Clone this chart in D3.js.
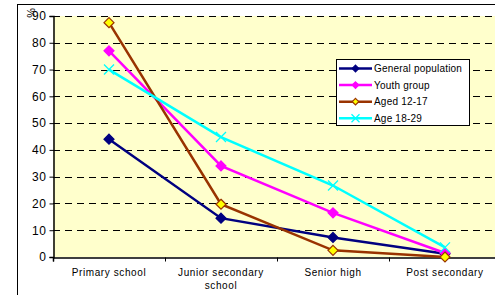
<!DOCTYPE html>
<html><head><meta charset="utf-8">
<script src="https://cdn.jsdelivr.net/npm/d3@7"></script>
<style>body{margin:0;background:#fff}svg{display:block;font-family:"Liberation Sans",Arial,sans-serif}</style>
</head><body>
<svg id="c" width="495" height="295"></svg>
<script>
const categories = [["Primary school"], ["Junior secondary", "school"], ["Senior high"], ["Post secondary"]];
const seriesNames = ["General population", "Youth group", "Aged 12-17", "Age 18-29"];
const generalPop = [44, 14.5, 7.3, 1.2];
const youthGroup = [77, 34, 16.5, 1.5];
const aged1217 = [87.5, 19.7, 2.5, 0];
const age1829 = [70, 44.8, 26.7, 3.6];
const yTicks = [0, 10, 20, 30, 40, 50, 60, 70, 80, 90];

const styles = [
  {stroke: "#000080", fill: "#000080", marker: "diamond", mstroke: "#000080"},
  {stroke: "#FF00FF", fill: "#FF00FF", marker: "diamond", mstroke: "#FF00FF"},
  {stroke: "#993300", fill: "#FFFF00", marker: "diamond", mstroke: "#993300"},
  {stroke: "#00FFFF", fill: "none", marker: "x", mstroke: "#00FFFF"}
];
const data = [generalPop, youthGroup, aged1217, age1829];

const svg = d3.select("#c");
const L = 53, T = 16, B = 257, R = 501;
svg.append("rect").attr("x", 17.5).attr("y", 4.5).attr("width", 490).attr("height", 300)
  .attr("fill", "#fff").attr("stroke", "#000").attr("stroke-width", 1);
svg.append("rect").attr("x", L).attr("y", T).attr("width", R - L).attr("height", B - T).attr("fill", "#FFFFCC");

const x = d3.scaleBand().domain(categories.map((d, i) => i)).range([L, R]);
const y = d3.scaleLinear().domain([0, 90]).range([B, T]);

svg.append("g").selectAll("line").data(yTicks.filter(d => d > 0)).join("line")
  .attr("x1", L).attr("x2", R).attr("y1", d => Math.round(y(d)) + 0.5).attr("y2", d => Math.round(y(d)) + 0.5)
  .attr("stroke", "#000").attr("stroke-dasharray", "7,5").attr("stroke-width", 1);

const ya = svg.append("g").attr("transform", `translate(${L + 0.5},0)`)
  .call(d3.axisLeft(y).tickValues(yTicks).tickSize(4).tickPadding(3));
ya.select(".domain").attr("stroke", "#000").attr("stroke-width", 1.5);
ya.selectAll("text").attr("font-size", 12).attr("fill", "#000").style("letter-spacing", "0.6px")
  .attr("font-family", "Liberation Sans, Arial, sans-serif");
ya.selectAll(".tick line").attr("stroke", "#000");

const xa = svg.append("g").attr("transform", `translate(0,${B + 0.5})`)
  .call(d3.axisBottom(d3.scaleLinear().domain([0, 4]).range([L, R])).tickValues([0, 1, 2, 3, 4]).tickSize(4).tickFormat(""));
xa.select(".domain").attr("stroke", "#000").attr("stroke-width", 1.5);
xa.selectAll(".tick line").attr("stroke", "#000");

const xl = svg.append("g");
categories.forEach((lines, i) => {
  const t = xl.append("text").attr("x", x(i) + x.bandwidth() / 2).attr("y", 276)
    .attr("text-anchor", "middle").attr("font-size", 10).attr("fill", "#000").style("letter-spacing", "0.6px");
  lines.forEach((ln, j) => t.append("tspan").attr("x", x(i) + x.bandwidth() / 2).attr("dy", j ? 13 : 0).text(ln));
});

svg.append("text").attr("transform", "translate(27,13) rotate(90)").attr("text-anchor", "middle")
  .attr("font-size", 11).attr("fill", "#000").text("%");

function marker(g, s, cx, cy, sz) {
  if (s.marker === "diamond") {
    g.append("path").attr("d", `M${cx},${cy - sz}L${cx + sz},${cy}L${cx},${cy + sz}L${cx - sz},${cy}Z`)
      .attr("fill", s.fill).attr("stroke", s.mstroke).attr("stroke-width", 1.2);
  } else {
    g.append("path").attr("d", `M${cx - sz},${cy - sz}L${cx + sz},${cy + sz}M${cx - sz},${cy + sz}L${cx + sz},${cy - sz}`)
      .attr("stroke", s.mstroke).attr("stroke-width", 1.3).attr("fill", "none");
  }
}

const line = d3.line().x((d, i) => x(i) + x.bandwidth() / 2).y(d => y(d));
data.forEach((vals, k) => {
  const s = styles[k];
  const g = svg.append("g");
  g.append("path").datum(vals).attr("d", line).attr("fill", "none").attr("stroke", s.stroke).attr("stroke-width", 2.5);
  vals.forEach((v, i) => marker(g, s, x(i) + x.bandwidth() / 2, y(v), 5));
});

const lg = svg.append("g");
lg.append("rect").attr("x", 336.5).attr("y", 59.5).attr("width", 133).attr("height", 66)
  .attr("fill", "#fff").attr("stroke", "#000").attr("stroke-width", 1);
seriesNames.forEach((n, k) => {
  const yy = 68.5 + k * 16.6;
  const s = styles[k];
  lg.append("line").attr("x1", 339).attr("x2", 372).attr("y1", yy).attr("y2", yy).attr("stroke", s.stroke).attr("stroke-width", 2.5);
  marker(lg, s, 355.5, yy, k === 3 ? 4 : 3.3);
  lg.append("text").attr("x", 374).attr("y", yy + 3.5).attr("font-size", 10).attr("fill", "#000").style("letter-spacing", "0.2px").text(n);
});
</script>
</body></html>
